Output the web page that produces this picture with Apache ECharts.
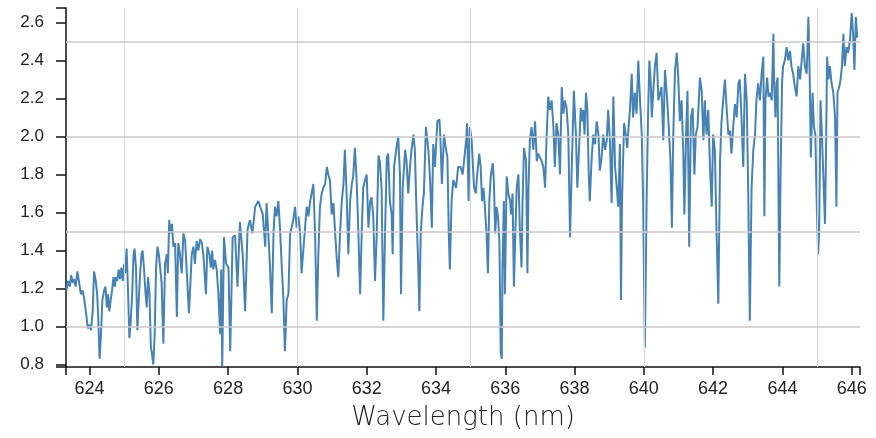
<!DOCTYPE html>
<html>
<head>
<meta charset="utf-8">
<script src="https://cdn.jsdelivr.net/npm/echarts@6/dist/echarts.min.js"></script>
<style>
html,body{margin:0;padding:0;background:#fff;}
#chart{width:876px;height:438px;}
</style>
</head>
<body>
<div id="chart"></div>
<script>
// Wavelength (nm) of each sampled vertex of the spectrum
const wavelength = [
623.33,623.38,623.43,623.47,623.51,623.55,623.60,623.65,623.70,623.75,
623.80,623.85,623.90,623.95,624.00,624.04,624.09,624.13,624.18,624.22,
624.25,624.29,624.33,624.37,624.42,624.46,624.50,624.53,624.57,624.61,
624.65,624.69,624.73,624.76,624.80,624.84,624.88,624.92,624.96,625.00,
625.03,625.07,625.11,625.15,625.19,625.23,625.27,625.30,625.34,625.38,
625.42,625.46,625.50,625.53,625.57,625.61,625.65,625.69,625.73,625.77,
625.80,625.84,625.88,625.92,625.96,626.00,
626.03,626.08,626.13,626.18,626.23,626.26,626.30,626.34,626.38,626.42,
626.47,626.52,626.56,626.61,626.66,626.71,626.76,626.80,626.87,626.95,
627.00,627.04,627.09,627.14,627.19,627.24,627.29,627.32,627.36,627.40,
627.46,627.50,627.54,627.57,627.62,627.67,627.72,627.77,627.80,627.83,
627.88,627.94,628.01,628.06,628.13,628.20,628.27,628.34,628.42,628.49,
628.56,628.63,628.70,628.78,628.87,
628.92,629.00,629.07,629.11,629.16,629.21,629.26,629.31,629.35,629.40,
629.45,629.50,629.55,629.59,629.64,629.69,629.74,629.79,629.83,629.88,
629.93,629.98,630.03,630.08,630.12,630.17,630.22,630.27,630.32,630.36,
630.41,630.46,630.51,630.56,630.60,630.65,630.70,630.75,630.80,630.85,
630.89,630.94,630.99,631.04,631.09,631.13,631.18,631.23,631.28,631.33,
631.37,631.42,631.47,631.52,631.57,631.61,631.66,631.71,
631.76,631.81,631.86,631.90,631.95,632.00,632.05,632.10,632.14,632.19,
632.24,632.29,632.34,632.38,632.43,632.48,632.53,632.58,632.62,632.67,
632.72,632.75,632.79,632.86,632.91,632.96,632.99,633.04,633.11,633.15,
633.20,633.25,633.30,633.35,633.39,633.44,633.49,633.52,633.56,633.61,
633.65,633.71,633.78,633.83,633.88,633.92,633.97,634.04,634.10,634.13,
634.17,634.23,634.29,634.33,634.37,634.40,634.45,634.50,634.58,634.64,
634.71,634.77,634.81,634.87,634.90,634.94,634.98,635.03,635.06,635.10,
635.15,635.19,635.25,635.29,635.33,635.37,635.40,635.46,635.50,635.54,
635.58,635.64,635.67,635.71,635.75,635.79,635.83,635.87,635.90,635.92,
635.96,635.99,636.04,636.09,636.14,636.17,636.21,636.25,636.29,636.33,
636.38,636.42,636.47,636.50,636.54,636.60,636.64,636.67,636.71,636.76,
636.81,636.86,636.91,636.95,637.00,637.05,637.10,637.15,637.19,637.24,
637.29,637.34,637.39,637.43,637.48,637.53,
637.58,637.63,637.68,637.72,637.77,637.82,637.87,637.92,637.98,638.04,
638.08,638.14,638.18,638.21,638.25,638.29,638.33,638.37,638.41,638.44,
638.49,638.54,638.59,638.64,638.69,638.73,638.78,638.83,638.88,638.93,
638.97,639.02,639.07,639.12,639.17,639.21,639.26,639.31,639.34,639.37,
639.43,639.48,639.52,639.56,639.60,639.65,639.69,639.74,639.79,639.84,
639.89,639.94,639.98,640.03,640.08,640.12,640.16,640.20,640.23,640.27,
640.32,640.37,640.42,
640.46,640.51,640.56,640.61,640.66,640.71,640.77,640.81,640.85,640.90,
640.95,640.99,641.04,641.09,641.14,641.17,641.22,641.26,641.31,641.36,
641.41,641.46,641.50,641.55,641.62,641.67,641.72,641.76,641.81,641.86,
641.91,641.96,642.00,642.05,642.10,642.15,642.20,642.24,642.29,642.34,
642.39,642.44,642.49,642.53,642.58,642.63,642.68,642.73,642.77,642.82,
642.87,642.92,642.97,643.01,643.06,643.11,643.16,643.21,643.25,643.30,
643.35,643.40,643.45,643.48,643.51,643.56,643.60,643.64,643.69,643.74,
643.76,643.80,643.83,643.86,643.91,643.95,643.99,644.02,644.07,644.12,
644.17,644.22,644.26,644.31,644.36,644.41,644.46,644.51,644.55,644.60,
644.65,644.70,644.75,644.79,644.82,644.87,644.91,644.95,644.99,645.03,
645.06,645.10,645.14,645.18,645.23,645.26,645.29,645.33,645.37,645.42,
645.47,645.52,645.56,645.59,645.64,645.68,645.72,645.76,645.80,645.85,
645.90,645.95,646.00,646.04,646.08,646.12,646.16
];

// Measured intensity at each wavelength above
const intensity = [
1.19,1.24,1.21,1.27,1.23,1.25,1.21,1.29,1.23,1.17,
1.19,1.14,1.07,0.99,1.01,0.98,1.08,1.29,1.24,1.17,
1.05,0.83,0.96,1.14,1.19,1.21,1.10,1.17,1.08,1.14,
1.19,1.26,1.21,1.26,1.24,1.30,1.25,1.31,1.24,1.33,
1.28,1.41,1.19,0.94,1.03,1.17,1.38,1.41,1.31,0.98,
1.14,1.28,1.38,1.40,1.31,1.19,1.10,1.26,1.17,0.89,
0.86,0.80,0.96,1.31,1.42,1.38,
1.38,1.23,0.91,1.33,1.38,1.28,1.56,1.49,1.54,1.42,
1.44,1.05,1.44,1.38,1.28,1.49,1.45,1.31,1.07,1.38,
1.42,1.33,1.45,1.40,1.46,1.44,1.37,1.28,1.17,1.42,
1.38,1.31,1.40,1.30,1.35,1.30,1.17,0.96,1.30,0.79,
1.47,1.33,1.31,0.87,1.47,1.48,1.21,1.55,1.38,1.08,
1.51,1.56,1.49,1.63,1.66,
1.65,1.59,1.42,1.65,1.49,1.31,1.07,1.49,1.63,1.58,
1.66,1.51,1.31,1.17,0.87,1.14,1.17,1.49,1.52,1.56,
1.63,1.52,1.58,1.49,1.28,1.40,1.52,1.63,1.58,1.65,
1.70,1.75,1.49,1.03,1.35,1.63,1.70,1.73,1.75,1.84,
1.80,1.77,1.59,1.65,1.49,1.37,1.26,1.49,1.66,1.75,
1.93,1.70,1.38,1.66,1.75,1.79,1.94,1.77,
1.49,1.17,1.52,1.73,1.77,1.80,1.52,1.66,1.68,1.58,
1.24,1.49,1.90,1.87,1.73,1.03,1.49,1.89,1.91,1.66,
1.59,1.38,1.84,1.94,2.00,1.80,1.17,1.73,1.93,1.87,
1.70,1.84,1.94,2.01,1.93,1.59,1.31,1.08,1.49,1.63,
1.70,2.05,1.93,1.77,1.52,1.96,1.84,2.08,2.09,1.98,
1.75,2.01,1.93,1.89,1.49,1.30,1.66,1.77,1.73,1.84,
1.84,1.80,1.87,1.98,2.07,1.66,2.05,1.98,1.87,1.73,
1.70,1.80,1.91,1.84,1.66,1.73,1.66,1.49,1.28,1.66,
1.79,1.86,1.77,1.49,1.63,1.58,1.45,0.86,0.83,1.31,
1.66,1.17,1.79,1.70,1.66,1.59,1.70,1.21,1.49,1.73,
1.80,1.52,1.31,1.66,1.94,1.87,1.28,1.73,1.98,2.05,
1.93,2.08,1.87,1.91,1.89,1.87,1.84,1.73,1.98,2.21,
2.14,2.19,2.05,1.84,2.07,2.01,
1.80,2.26,2.12,2.19,2.15,2.01,1.47,1.84,2.24,2.01,
1.73,1.98,2.15,2.08,2.14,2.01,2.23,2.14,1.80,1.66,
1.87,2.01,1.96,2.08,2.01,1.82,1.89,2.01,1.93,1.98,
2.14,1.98,1.65,2.21,1.84,1.75,1.63,1.96,1.14,1.66,
2.07,2.01,1.94,2.05,2.14,2.33,2.10,2.23,2.12,2.40,
2.19,2.01,1.66,0.89,1.66,2.10,2.40,2.28,2.10,2.23,
2.37,2.44,2.19,
2.19,2.26,1.98,2.35,2.23,2.08,1.87,1.52,2.01,2.35,
2.44,2.33,2.08,2.19,1.91,1.59,2.01,2.24,1.42,2.10,
2.15,1.80,2.01,2.05,2.31,2.24,1.98,2.19,2.01,2.14,
1.84,1.63,2.01,1.93,1.49,1.12,1.87,2.07,2.19,2.30,
2.15,2.01,2.03,1.91,2.05,2.17,2.10,2.28,2.30,2.10,
1.84,2.33,2.19,1.75,1.03,1.73,1.93,2.01,2.19,2.28,
2.19,2.33,2.42,1.58,2.19,2.31,2.21,2.23,2.19,2.54,
2.28,2.10,2.28,2.31,1.21,1.84,2.28,2.37,2.40,2.47,
2.40,2.45,2.37,2.33,2.26,2.21,2.37,2.30,2.31,2.49,
2.37,2.33,2.63,2.30,1.89,2.23,2.05,2.01,1.66,1.38,
1.49,2.19,2.01,2.00,1.54,1.93,2.42,2.30,2.37,2.28,
2.23,2.10,1.63,2.23,2.26,2.30,2.37,2.54,2.37,2.47,
2.44,2.51,2.65,2.54,2.35,2.63,2.52
];

// Axis extents, tick labels and grid positions
const xMin = 623.32, xMax = 646.24;
const yMin = 0.787, yMax = 2.676;
const xTickLabels = [624, 626, 628, 630, 632, 634, 636, 638, 640, 642, 644, 646];
const yTickLabels = [0.8, 1.0, 1.2, 1.4, 1.6, 1.8, 2.0, 2.2, 2.4, 2.6];
const xGridValues = [625, 630, 635, 640, 645];
const yGridValues = [1.0, 1.5, 2.0, 2.5];
const xAxisName = 'Wavelength (nm)';

const seriesData = wavelength.map((w, i) => [w, intensity[i]]);

const chart = echarts.init(document.getElementById('chart'), null, {renderer: 'canvas'});
const tickFont = "'Liberation Sans', Arial, sans-serif";

chart.setOption({
  animation: false,
  backgroundColor: '#ffffff',
  grid: {left: 66, right: 16, top: 8, bottom: 71, containLabel: false},
  xAxis: {
    type: 'value', min: xMin, max: xMax,
    name: xAxisName, nameLocation: 'middle', nameGap: 38,
    nameTextStyle: {fontFamily: "'DejaVu Sans', sans-serif", fontWeight: 200, fontSize: 26, color: '#222'},
    axisLine: {show: true, onZero: false, lineStyle: {color: '#111', width: 1.5}},
    axisTick: {show: true, length: 8, lineStyle: {color: '#111', width: 1.5},
      customValues: [xMin].concat(xTickLabels, [xMax])},
    axisLabel: {show: true, customValues: xTickLabels, margin: 13, fontSize: 18, color: '#222',
      fontFamily: tickFont, formatter: v => String(Math.round(v))},
    splitLine: {show: false}
  },
  yAxis: {
    type: 'value', min: yMin, max: yMax,
    axisLine: {show: true, onZero: false, lineStyle: {color: '#111', width: 1.5}},
    axisTick: {show: true, length: 10, lineStyle: {color: '#111', width: 1.5},
      customValues: [yMin].concat(yTickLabels, [yMax])},
    axisLabel: {show: true, customValues: yTickLabels, margin: 22, fontSize: 17, color: '#222',
      fontFamily: tickFont, formatter: v => v.toFixed(1)},
    splitLine: {show: false}
  },
  series: [
    {
      type: 'line', name: 'grid', z: 1, silent: true, showSymbol: false,
      data: [[630, 1.5]], lineStyle: {opacity: 0},
      markLine: {
        silent: true, symbol: ['none', 'none'], label: {show: false}, animation: false,
        data: xGridValues.map(v => ({xAxis: v, lineStyle: {color: '#dadada', width: 1, type: 'solid'}}))
          .concat(yGridValues.map(v => ({yAxis: v, lineStyle: {color: '#c8c8c8', width: 1.5, type: 'solid'}})))
      }
    },
    {
      type: 'line', name: 'spectrum', z: 3, showSymbol: false, symbol: 'none',
      data: seriesData, clip: true,
      lineStyle: {color: '#4682b4', width: 2},
      emphasis: {disabled: true}
    }
  ]
});
</script>
</body>
</html>
